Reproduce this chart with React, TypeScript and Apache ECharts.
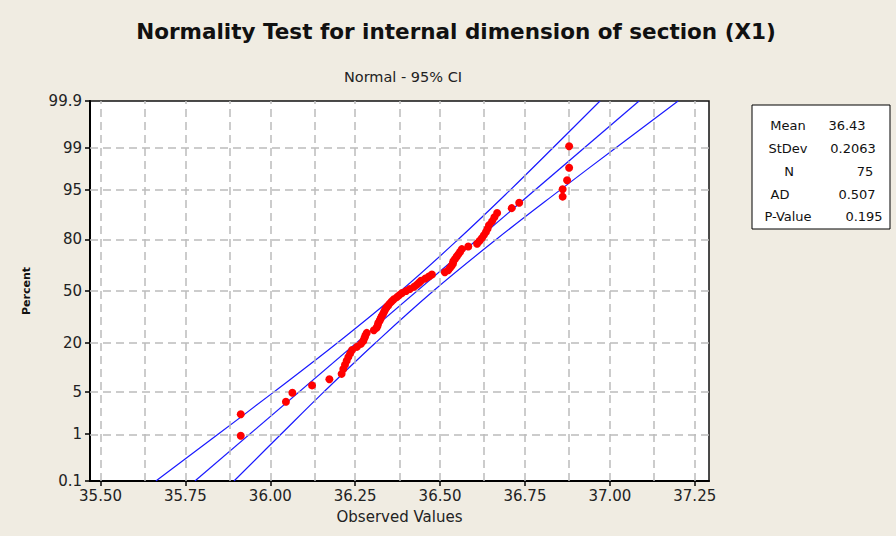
import React, { useEffect, useRef } from "react";
import * as echarts from "echarts";

const chartTitle = "Normality Test for internal dimension of section (X1)";
const chartSubtitle = "Normal - 95% CI";
const xAxisName = "Observed Values";
const yAxisName = "Percent";

const percentTicks = [0.1, 1, 5, 20, 50, 80, 95, 99, 99.9];
const percentTickLabels = ["0.1", "1", "5", "20", "50", "80", "95", "99", "99.9"];
const percentGrid = [1, 5, 20, 50, 80, 95, 99];
const xTicks = [35.5, 35.75, 36.0, 36.25, 36.5, 36.75, 37.0, 37.25];
const xGrid = [35.5, 35.625, 35.75, 35.875, 36.0, 36.125, 36.25, 36.375, 36.5, 36.625, 36.75, 36.875, 37.0, 37.125, 37.25];
const xMin = 35.469;
const xMax = 37.292;

const observed = [
  35.913, 35.913, 36.046, 36.065, 36.123, 36.174, 36.210, 36.215, 36.220, 36.225,
  36.230, 36.235, 36.241, 36.255, 36.267, 36.274, 36.277, 36.280, 36.284, 36.305,
  36.313, 36.316, 36.318, 36.322, 36.325, 36.328, 36.332, 36.335, 36.338, 36.342,
  36.347, 36.352, 36.358, 36.364, 36.373, 36.380, 36.388, 36.400, 36.411, 36.423,
  36.431, 36.438, 36.444, 36.456, 36.467, 36.476, 36.514, 36.524, 36.529, 36.534,
  36.538, 36.539, 36.544, 36.549, 36.554, 36.559, 36.564, 36.583, 36.609, 36.616,
  36.623, 36.629, 36.635, 36.640, 36.644, 36.653, 36.660, 36.668, 36.711, 36.733,
  36.861, 36.861, 36.874, 36.880, 36.880,
];

// fitted line and 95% CI bands: [observed value, percent]
const fitLine = [[35.778, 0.1], [37.086, 99.9]];
const ciLeft = [
  [35.663, 0.1], [35.847, 1], [36.010, 5], [36.198, 20], [36.384, 50],
  [36.554, 80], [36.707, 95], [36.832, 99], [36.971, 99.9],
];
const ciRight = [
  [35.893, 0.1], [36.032, 1], [36.157, 5], [36.310, 20], [36.480, 50],
  [36.666, 80], [36.854, 95], [37.017, 99], [37.201, 99.9],
];

const statLabels = ["Mean", "StDev", "N", "AD", "P-Value"];
const statValues = ["36.43", "0.2063", "75", "0.507", "0.195"];

// inverse standard normal CDF (probability-axis transform)
function normInv(p: number): number {
  const a = [-3.969683028665376e1, 2.209460984245205e2, -2.759285104469687e2, 1.38357751867269e2, -3.066479806614716e1, 2.506628277459239];
  const b = [-5.447609879822406e1, 1.615858368580409e2, -1.556989798598866e2, 6.680131188771972e1, -1.328068155288572e1];
  const c = [-7.784894002430293e-3, -3.223964580411365e-1, -2.400758277161838, -2.549732539343734, 4.374664141464968, 2.938163982698783];
  const d = [7.784695709041462e-3, 3.224671290700398e-1, 2.445134137142996, 3.754408661907416];
  const pl = 0.02425;
  const ph = 1 - pl;
  if (p < pl) {
    const q = Math.sqrt(-2 * Math.log(p));
    return (((((c[0] * q + c[1]) * q + c[2]) * q + c[3]) * q + c[4]) * q + c[5]) / ((((d[0] * q + d[1]) * q + d[2]) * q + d[3]) * q + 1);
  }
  if (p <= ph) {
    const q = p - 0.5;
    const r = q * q;
    return ((((((a[0] * r + a[1]) * r + a[2]) * r + a[3]) * r + a[4]) * r + a[5]) * q) / (((((b[0] * r + b[1]) * r + b[2]) * r + b[3]) * r + b[4]) * r + 1);
  }
  const q = Math.sqrt(-2 * Math.log(1 - p));
  return -(((((c[0] * q + c[1]) * q + c[2]) * q + c[3]) * q + c[4]) * q + c[5]) / ((((d[0] * q + d[1]) * q + d[2]) * q + d[3]) * q + 1);
}
const toZ = (pct: number) => normInv(pct / 100);

const FONT = "DejaVu Sans";

export default function App() {
  const ref = useRef<HTMLDivElement>(null);

  useEffect(() => {
    if (!ref.current) return;
    const chart = echarts.init(ref.current, null, { renderer: "svg" });
    const n = observed.length;
    const tickZ = percentTicks.map(toZ);
    const yMin = tickZ[0];
    const yMax = tickZ[tickZ.length - 1];
    const points = observed.map((v, i) => [v, toZ(((i + 1 - 0.3) / (n + 0.4)) * 100)]);
    const conv = (arr: number[][]) => arr.map(([x, p]) => [x, toZ(p)]);

    const lineStyleBlue = { color: "#1a1aff", width: 1.2 };

    const statTexts: any[] = [];
    const labelX = [788, 788, 789, 780, 788];
    const valueX = [847, 853, 865, 857, 864];
    const rowY = [125, 148, 171, 194, 216];
    statLabels.forEach((s, i) => {
      statTexts.push({
        type: "text",
        x: labelX[i],
        y: rowY[i],
        style: { text: s, fill: "#111", font: `13px "${FONT}"`, align: "center", verticalAlign: "middle" },
      });
      statTexts.push({
        type: "text",
        x: valueX[i],
        y: rowY[i],
        style: { text: statValues[i], fill: "#111", font: `13px "${FONT}"`, align: "center", verticalAlign: "middle" },
      });
    });

    chart.setOption({
      animation: false,
      backgroundColor: "#F0ECE2",
      textStyle: { fontFamily: FONT },
      title: [
        {
          text: chartTitle,
          left: 451,
          top: 15,
          textAlign: "center",
          textStyle: { fontFamily: FONT, fontWeight: "bold", fontSize: 21.5, color: "#111" },
        },
        {
          text: chartSubtitle,
          left: 398,
          top: 64,
          textAlign: "center",
          textStyle: { fontFamily: FONT, fontWeight: "normal", fontSize: 14.5, color: "#222" },
        },
      ],
      grid: {
        left: 90,
        right: 187,
        top: 101,
        bottom: 55,
        show: true,
        backgroundColor: "#ffffff",
        borderColor: "#111",
        borderWidth: 1.5,
      },
      xAxis: {
        type: "value",
        min: xMin,
        max: xMax,
        name: xAxisName,
        nameLocation: "middle",
        nameGap: 28,
        nameTextStyle: { fontFamily: FONT, fontSize: 15, color: "#222" },
        axisLine: { show: true, onZero: false, lineStyle: { color: "#000", width: 2 } },
        axisTick: { show: true, customValues: xTicks, length: 5, lineStyle: { color: "#000", width: 1.5 } },
        axisLabel: {
          customValues: xTicks,
          formatter: (v: number) => v.toFixed(2),
          fontFamily: FONT,
          fontSize: 15,
          color: "#222",
          margin: 7,
        },
        splitLine: { show: false },
      },
      yAxis: {
        type: "value",
        min: yMin,
        max: yMax,
        name: yAxisName,
        nameLocation: "middle",
        nameRotate: 90,
        nameGap: 58,
        nameTextStyle: { fontFamily: FONT, fontSize: 11, fontWeight: "bold", color: "#111" },
        axisLine: { show: true, onZero: false, lineStyle: { color: "#000", width: 2 } },
        axisTick: { show: true, customValues: tickZ, length: 5, lineStyle: { color: "#000", width: 1.5 } },
        axisLabel: {
          customValues: tickZ,
          formatter: (v: number) => {
            let best = 0;
            tickZ.forEach((z, i) => {
              if (Math.abs(z - v) < Math.abs(tickZ[best] - v)) best = i;
            });
            return percentTickLabels[best];
          },
          fontFamily: FONT,
          fontSize: 15,
          color: "#222",
          margin: 8,
        },
        splitLine: { show: false },
      },
      series: [
        {
          type: "line",
          data: [],
          z: 1,
          silent: true,
          markLine: {
            silent: true,
            symbol: ["none", "none"],
            label: { show: false },
            lineStyle: { type: [8, 5], color: "#bcbcbc", width: 1.5 },
            data: [
              ...xGrid.map((x) => ({ xAxis: x })),
              ...percentGrid.map((p) => ({ yAxis: toZ(p) })),
            ],
          },
        },
        {
          type: "line",
          data: conv(ciLeft),
          smooth: 0.4,
          showSymbol: false,
          symbol: "none",
          z: 3,
          lineStyle: lineStyleBlue,
        },
        {
          type: "line",
          data: conv(fitLine),
          showSymbol: false,
          symbol: "none",
          z: 3,
          lineStyle: lineStyleBlue,
        },
        {
          type: "line",
          data: conv(ciRight),
          smooth: 0.4,
          showSymbol: false,
          symbol: "none",
          z: 3,
          lineStyle: lineStyleBlue,
        },
        {
          type: "scatter",
          data: points,
          symbol: "circle",
          symbolSize: 8,
          z: 5,
          itemStyle: { color: "#ff0000", opacity: 1 },
        },
      ],
      graphic: [
        {
          type: "rect",
          shape: { x: 752, y: 105, width: 138, height: 124 },
          style: { fill: "#ffffff", stroke: "#000", lineWidth: 1 },
        },
        ...statTexts,
      ],
    });
    return () => chart.dispose();
  }, []);

  return <div ref={ref} style={{ position: "absolute", left: 0, top: 0, width: 896, height: 536 }} />;
}
